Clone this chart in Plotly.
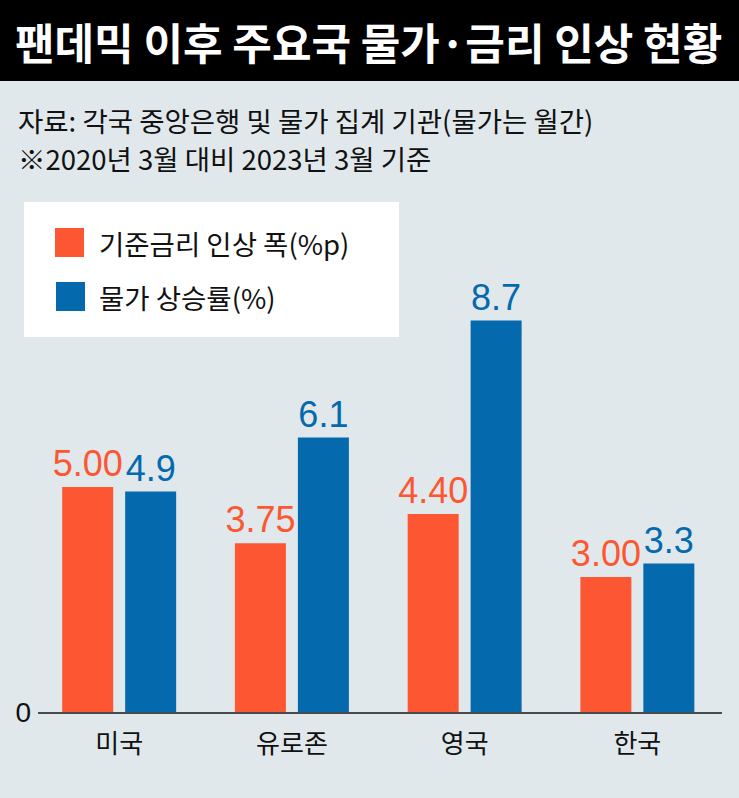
import plotly.graph_objects as go

# data
countries = ["미국", "유로존", "영국", "한국"]
rate_hike = [5.00, 3.75, 4.40, 3.00]        # 기준금리 인상 폭(%p)
inflation = [4.9, 6.1, 8.7, 3.3]            # 물가 상승률(%)
rate_labels = ["5.00", "3.75", "4.40", "3.00"]
infl_labels = ["4.9", "6.1", "8.7", "3.3"]
series_names = ["기준금리 인상 폭(%p)", "물가 상승률(%)"]

title_text = "팬데믹 이후 주요국 물가·금리 인상 현황"
source_text = "자료: 각국 중앙은행 및 물가 집계 기관(물가는 월간)"
note_text = "※2020년 3월 대비 2023년 3월 기준"

ORANGE = "#fd5632"
BLUE = "#0569ad"
BG = "#e0e8eb"
KR = "Noto Sans CJK KR"
NUM = "Liberation Sans, Arial, sans-serif"

W, H = 739, 798
L, R, T, B = 38, 17, 200, 86
PW, PH = W - L - R, H - T - B


def px_x(px):
    return (px - L) / PW


def px_y(py):
    return (H - B - py) / PH


fig = go.Figure()
fig.add_trace(go.Bar(
    x=countries, y=rate_hike, name=series_names[0],
    marker_color=ORANGE, marker_line_width=0,
    text=rate_labels, textposition="outside", constraintext="none",
    textfont=dict(family=NUM, size=36, color=ORANGE),
    cliponaxis=False, showlegend=False,
))
fig.add_trace(go.Bar(
    x=countries, y=inflation, name=series_names[1],
    marker_color=BLUE, marker_line_width=0,
    text=infl_labels, textposition="outside", constraintext="none",
    textfont=dict(family=NUM, size=36, color=BLUE),
    cliponaxis=False, showlegend=False,
))

shapes = [
    # black title band
    dict(type="rect", xref="paper", yref="paper",
         x0=px_x(0), x1=px_x(W), y0=px_y(81), y1=px_y(0),
         fillcolor="black", line_width=0, layer="above"),
    # legend box
    dict(type="rect", xref="paper", yref="paper",
         x0=px_x(24), x1=px_x(399), y0=px_y(337), y1=px_y(202),
         fillcolor="white", line_width=0, layer="below"),
    dict(type="rect", xref="paper", yref="paper",
         x0=px_x(55), x1=px_x(84), y0=px_y(257), y1=px_y(228),
         fillcolor=ORANGE, line_width=0),
    dict(type="rect", xref="paper", yref="paper",
         x0=px_x(56), x1=px_x(85), y0=px_y(311), y1=px_y(282),
         fillcolor=BLUE, line_width=0),
]

annotations = [
    dict(text="<b>" + title_text + "</b>", xref="paper", yref="paper",
         x=px_x(368), y=px_y(41), xanchor="center", yanchor="middle",
         showarrow=False, font=dict(family=KR, size=43, color="white")),
    dict(text=source_text, xref="paper", yref="paper",
         x=px_x(16), y=px_y(120), xanchor="left", yanchor="middle",
         showarrow=False, font=dict(family=KR, size=27.5, color="#111")),
    dict(text=note_text, xref="paper", yref="paper",
         x=px_x(16), y=px_y(158), xanchor="left", yanchor="middle",
         showarrow=False, font=dict(family=KR, size=27.5, color="#111")),
    dict(text=series_names[0], xref="paper", yref="paper",
         x=px_x(97), y=px_y(243), xanchor="left", yanchor="middle",
         showarrow=False, font=dict(family=KR, size=27.5, color="#111")),
    dict(text=series_names[1], xref="paper", yref="paper",
         x=px_x(97), y=px_y(297), xanchor="left", yanchor="middle",
         showarrow=False, font=dict(family=KR, size=27.5, color="#111")),
]

fig.update_layout(
    width=W, height=H,
    margin=dict(l=L, r=R, t=T, b=B, pad=0),
    paper_bgcolor=BG, plot_bgcolor=BG,
    barmode="group", bargap=0.271, bargroupgap=0.19,
    shapes=shapes, annotations=annotations,
    showlegend=False,
)
fig.update_xaxes(
    range=[-0.47, 3.49], showgrid=False, zeroline=False,
    showline=True, linecolor="#4a4a4a", linewidth=2,
    ticks="", ticklabelstandoff=8,
    tickfont=dict(family=KR, size=26, color="#111"),
)
fig.update_yaxes(
    range=[0, PH / 45], showgrid=False, zeroline=False, showline=False,
    tickvals=[0], ticktext=["0"], ticks="", ticklabelstandoff=6,
    tickfont=dict(family="Liberation Sans Narrow, Liberation Sans", size=28, color="#111"),
)

# drop the default page margin so the figure sits at the window's corner
fig.write_html(
    "out.html",
    config={"displayModeBar": False},
    post_script="document.body.style.margin='0';document.body.style.overflow='hidden';",
)
